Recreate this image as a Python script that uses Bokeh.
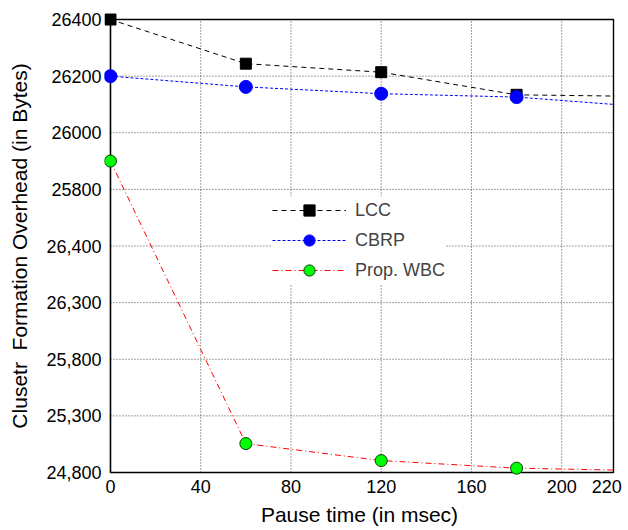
from bokeh.plotting import figure
from bokeh.models import Range1d, FixedTicker, Legend, LegendItem
from bokeh.embed import file_html
from bokeh.resources import INLINE

# ---- data (y values are positions on the printed tick scale) ----
pause = [0, 60, 120, 180, 240]
lcc = [8.0, 7.22, 7.07, 6.67, 6.64]
cbrp = [7.0, 6.81, 6.69, 6.63, 6.45]
wbc = [5.5, 0.51, 0.21, 0.076, 0.03]

x_ticks = [0, 40, 80, 120, 160, 200, 220]
x_grid = [40, 80, 120, 160, 200]
y_ticks = [0, 1, 2, 3, 4, 5, 6, 7, 8]
y_grid = [1, 2, 3, 4, 5, 6, 7]
y_tick_labels = ["24,800", "25,300", "25,800", "26,300", "26,400",
                 "25800", "26000", "26200", "26400"]
x_max = 223
y_max = 8

FONT = "Liberation Sans"
X_PAD = 2.65
Y_PAD = 0.124

p = figure(width=628, height=530, output_backend="svg", toolbar_location=None,
           x_range=Range1d(-X_PAD, x_max + 0.4), y_range=Range1d(-Y_PAD, y_max + Y_PAD),
           min_border_left=104, min_border_right=14, min_border_top=12, min_border_bottom=51)
p.outline_line_color = None
p.xgrid.visible = False
p.ygrid.visible = False
p.background_fill_color = "white"

# grid
p.segment(x0=x_grid, y0=[0] * len(x_grid), x1=x_grid, y1=[y_max] * len(x_grid),
          line_color="#444444", line_dash="1 2", line_width=1)
p.segment(x0=[0] * len(y_grid), y0=y_grid, x1=[x_max] * len(y_grid), y1=y_grid,
          line_color="#444444", line_dash="1 2", line_width=1)

# frame
p.quad(left=[0], right=[x_max], bottom=[0], top=[y_max], fill_color=None,
       line_color="black", line_width=1.6)

# series
l1 = p.line(pause, lcc, line_color="black", line_dash="5 4", line_width=1)
m1 = p.scatter(pause, lcc, marker="square", size=11, fill_color="black", line_color="black")
l2 = p.line(pause, cbrp, line_color="#0000ff", line_dash="3 2", line_width=1)
m2 = p.scatter(pause, cbrp, marker="circle", size=13, fill_color="#0000ff", line_color="#0000ff")
l3 = p.line(pause, wbc, line_color="#ff0000", line_dash="6 3 1 3", line_width=1)
m3 = p.scatter(pause, wbc, marker="circle", size=12, fill_color="#00ff00", line_color="#0a3a0a", line_width=1)

# axes
p.xaxis.ticker = FixedTicker(ticks=x_ticks)
p.yaxis.ticker = FixedTicker(ticks=y_ticks)
p.yaxis.major_label_overrides = {t: s for t, s in zip(y_ticks, y_tick_labels)}
for ax in (p.xaxis[0], p.yaxis[0]):
    ax.axis_line_color = None
    ax.major_tick_line_color = None
    ax.minor_tick_line_color = None
    ax.major_tick_out = 0
    ax.major_tick_in = 0
    ax.major_label_text_font = FONT
    ax.major_label_text_font_size = "18px"
    ax.major_label_text_color = "black"
    ax.axis_label_text_font = FONT
    ax.axis_label_text_font_size = "21px"
    ax.axis_label_text_font_style = "normal"
    ax.axis_label_text_color = "black"
p.xaxis.axis_label = "Pause time (in msec)"
p.yaxis.axis_label = "Clusetr\u00a0 Formation Overhead (in Bytes)"
p.xaxis.major_label_standoff = 0
p.xaxis.axis_label_standoff = 7
p.yaxis.major_label_standoff = 3
p.yaxis.axis_label_standoff = 12

legend = Legend(items=[LegendItem(label="LCC", renderers=[l1, m1]),
                       LegendItem(label="CBRP", renderers=[l2, m2]),
                       LegendItem(label="Prop. WBC", renderers=[l3, m3])],
                location=(168, 195), glyph_width=74, glyph_height=28, spacing=2,
                label_standoff=9, padding=6, margin=0, border_line_color=None,
                background_fill_color="white", background_fill_alpha=1.0,
                label_text_font=FONT, label_text_font_size="18px", label_height=28)
p.add_layout(legend, "center")

open("out.html", "w").write(file_html(p, INLINE))
